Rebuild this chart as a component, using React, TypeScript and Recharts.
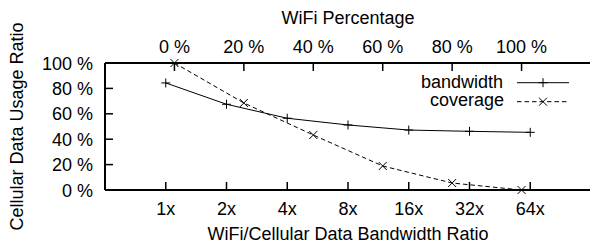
import React from 'react';
import { LineChart, Line, XAxis, YAxis, Legend } from 'recharts';

// Bottom axis categories: WiFi/Cellular bandwidth ratio
const bandwidthRatios = [1, 2, 4, 8, 16, 32, 64];
// Cellular data usage (%) vs bandwidth ratio
const bandwidthUsage = [84.3, 67.5, 56.5, 51.2, 47.2, 46.2, 45.4];

// Top axis categories: WiFi percentage
const wifiPercent = [0, 20, 40, 60, 80, 100];
// Cellular data usage (%) vs WiFi coverage
const coverageUsage = [100, 68.5, 43.3, 18.9, 5.5, 0];

const yTicks = [0, 20, 40, 60, 80, 100];

const seriesNames = ['bandwidth', 'coverage'];
const axisTitles = {
  top: 'WiFi Percentage',
  bottom: 'WiFi/Cellular Data Bandwidth Ratio',
  left: 'Cellular Data Usage Ratio',
};

const bandwidthData = bandwidthRatios.map((r, i) => ({ x: r, y: bandwidthUsage[i] }));
const coverageData = wifiPercent.map((p, i) => ({ x: p, y: coverageUsage[i] }));

const FONT = '"Liberation Sans", Arial, Helvetica, sans-serif';
const FS = 18;
const TICK = 8;

const BottomTick = (props: any) => {
  const { x, y, payload } = props;
  return (
    <g>
      <line x1={x} x2={x} y1={y} y2={y - TICK} stroke="#000" strokeWidth={1.5} />
      <text x={x} y={y + 25} textAnchor="middle" fontSize={FS} fontFamily={FONT} fill="#000">
        {`${payload.value}x`}
      </text>
    </g>
  );
};

const TopTick = (props: any) => {
  const { x, y, payload } = props;
  return (
    <g>
      <line x1={x} x2={x} y1={y} y2={y + TICK} stroke="#000" strokeWidth={1.5} />
      <text x={x} y={y - 10.5} textAnchor="middle" fontSize={FS} fontFamily={FONT} fill="#000">
        {`${payload.value} %`}
      </text>
    </g>
  );
};

const LeftTick = (props: any) => {
  const { x, y, payload } = props;
  return (
    <g>
      <line x1={x} x2={x + TICK} y1={y} y2={y} stroke="#000" strokeWidth={1.5} />
      <text x={x - 12} y={y + 6.5} textAnchor="end" fontSize={FS} fontFamily={FONT} fill="#000">
        {`${payload.value} %`}
      </text>
    </g>
  );
};

const RightTick = (props: any) => {
  const { x, y } = props;
  return (
    <g>
      <line x1={x} x2={x - TICK} y1={y} y2={y} stroke="#000" strokeWidth={1.5} />
    </g>
  );
};

const PlusDot = (props: any) => {
  const { cx, cy } = props;
  if (cx == null || cy == null) return null;
  const s = 4.5;
  return (
    <g>
      <line x1={cx - s} x2={cx + s} y1={cy} y2={cy} stroke="#000" strokeWidth={1} />
      <line x1={cx} x2={cx} y1={cy - s} y2={cy + s} stroke="#000" strokeWidth={1} />
    </g>
  );
};

const CrossDot = (props: any) => {
  const { cx, cy } = props;
  if (cx == null || cy == null) return null;
  const s = 4;
  return (
    <g>
      <line x1={cx - s} x2={cx + s} y1={cy - s} y2={cy + s} stroke="#000" strokeWidth={1} />
      <line x1={cx - s} x2={cx + s} y1={cy + s} y2={cy - s} stroke="#000" strokeWidth={1} />
    </g>
  );
};

const AxisTitle = (props: any) => {
  const { kind } = props;
  const vb = props.viewBox || {};
  if (kind === 'bottom') {
    const cx = vb.x != null ? vb.x + vb.width / 2 : 348;
    const by = vb.y != null ? vb.y + 50 : 240;
    return (
      <text x={cx} y={by} textAnchor="middle" fontSize={FS} fontFamily={FONT} fill="#000">
        {axisTitles.bottom}
      </text>
    );
  }
  if (kind === 'top') {
    const cx = vb.x != null ? vb.x + vb.width / 2 : 348;
    return (
      <text x={cx} y={24} textAnchor="middle" fontSize={FS} fontFamily={FONT} fill="#000">
        {axisTitles.top}
      </text>
    );
  }
  const cy = vb.y != null ? vb.y + vb.height / 2 : 126.5;
  const bx = 23;
  return (
    <text
      x={bx}
      y={cy}
      transform={`rotate(-90, ${bx}, ${cy})`}
      textAnchor="middle"
      fontSize={FS}
      fontFamily={FONT}
      fill="#000"
    >
      {axisTitles.left}
    </text>
  );
};

const LegendContent = () => (
  <svg width={180} height={42} style={{ display: 'block', overflow: 'visible' }}>
    <text x={93} y={18} textAnchor="end" fontSize={FS} fontFamily={FONT} fill="#000">
      {seriesNames[0]}
    </text>
    <line x1={107} x2={159} y1={12.7} y2={12.7} stroke="#000" strokeWidth={1} />
    <PlusDot cx={133} cy={12.7} />
    <text x={94} y={35.7} textAnchor="end" fontSize={FS} fontFamily={FONT} fill="#000">
      {seriesNames[1]}
    </text>
    <line x1={107} x2={159} y1={31.7} y2={31.7} stroke="#000" strokeWidth={1} strokeDasharray="4.5 3" />
    <CrossDot cx={133} cy={31.7} />
  </svg>
);

export default function App() {
  return (
    <div
      style={{
        position: 'absolute',
        left: 0,
        top: 0,
        width: 590,
        height: 245,
        overflow: 'hidden',
        background: '#fff',
      }}
    >
      <LineChart width={600} height={245} margin={{ top: 0, right: 9, bottom: 0, left: 0 }}>
        <XAxis
          xAxisId="bottom"
          orientation="bottom"
          type="number"
          dataKey="x"
          scale="log"
          domain={[0.5, 128]}
          ticks={bandwidthRatios}
          allowDataOverflow
          height={55}
          tickSize={0}
          tickMargin={0}
          tickLine={false}
          axisLine={{ stroke: '#000', strokeWidth: 2 }}
          tick={<BottomTick />}
          interval={0}
          label={<AxisTitle kind="bottom" />}
        />
        <XAxis
          xAxisId="top"
          orientation="top"
          type="number"
          dataKey="x"
          domain={[-20, 120]}
          ticks={wifiPercent}
          allowDataOverflow
          height={63}
          tickSize={0}
          tickMargin={0}
          tickLine={false}
          axisLine={{ stroke: '#000', strokeWidth: 2 }}
          tick={<TopTick />}
          interval={0}
          label={<AxisTitle kind="top" />}
        />
        <YAxis
          yAxisId="left"
          orientation="left"
          type="number"
          domain={[0, 100]}
          ticks={yTicks}
          width={105}
          tickSize={0}
          tickMargin={0}
          tickLine={false}
          axisLine={{ stroke: '#000', strokeWidth: 2 }}
          tick={<LeftTick />}
          interval={0}
          label={<AxisTitle kind="left" />}
        />
        <YAxis
          yAxisId="right"
          orientation="right"
          type="number"
          domain={[0, 100]}
          ticks={yTicks}
          width={0}
          tickSize={0}
          tickMargin={0}
          tickLine={false}
          axisLine={{ stroke: '#000', strokeWidth: 2 }}
          tick={<RightTick />}
          interval={0}
        />
        <Legend
          layout="vertical"
          align="center"
          verticalAlign="middle"
          wrapperStyle={{ position: 'absolute', left: 410, top: 70, width: 180, height: 42 }}
          content={<LegendContent />}
        />
        <Line
          name={seriesNames[0]}
          data={bandwidthData}
          xAxisId="bottom"
          yAxisId="left"
          dataKey="y"
          type="linear"
          stroke="#000"
          strokeWidth={1}
          dot={<PlusDot />}
          activeDot={false}
          isAnimationActive={false}
        />
        <Line
          name={seriesNames[1]}
          data={coverageData}
          xAxisId="top"
          yAxisId="left"
          dataKey="y"
          type="linear"
          stroke="#000"
          strokeWidth={1}
          strokeDasharray="4.5 3"
          dot={<CrossDot />}
          activeDot={false}
          isAnimationActive={false}
        />
      </LineChart>
    </div>
  );
}
